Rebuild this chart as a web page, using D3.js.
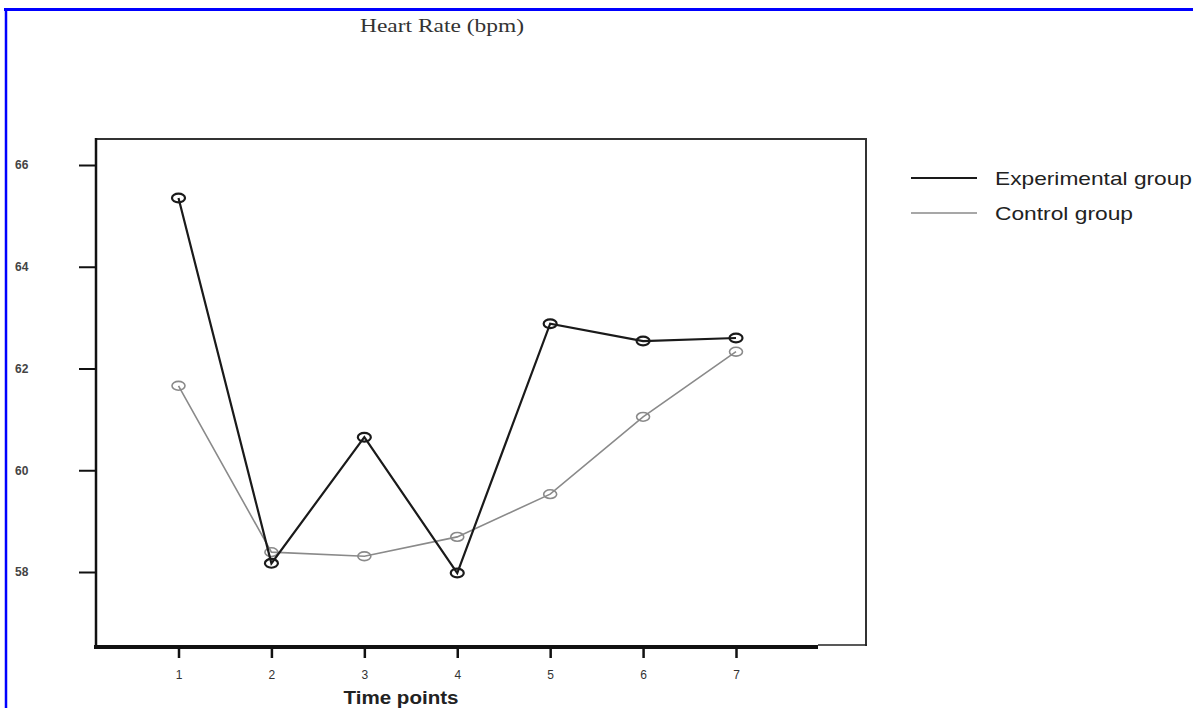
<!DOCTYPE html>
<html>
<head>
<meta charset="utf-8">
<script src="https://cdn.jsdelivr.net/npm/d3@7"></script>
<style>
  html, body { margin: 0; padding: 0; background: #fff; }
  svg { display: block; }
</style>
</head>
<body>
<svg id="chart" width="1193" height="708"></svg>
<script>
const timePoints = [1, 2, 3, 4, 5, 6, 7];
const experimental = [65.35, 58.17, 60.65, 57.98, 62.88, 62.54, 62.60];
const control = [61.66, 58.39, 58.31, 58.69, 59.53, 61.05, 62.33];
const yTicks = [58, 60, 62, 64, 66];
const seriesNames = ["Experimental group", "Control group"];
const titleText = "Heart Rate (bpm)";
const xLabel = "Time points";

(function () {
const svg = d3.select("#chart");

// blue border (top and left only visible)
svg.append("line").attr("x1", 4).attr("x2", 1193).attr("y1", 9.5).attr("y2", 9.5)
  .attr("stroke", "#0000ff").attr("stroke-width", 3);
svg.append("line").attr("x1", 6).attr("x2", 6).attr("y1", 8).attr("y2", 708)
  .attr("stroke", "#0000ff").attr("stroke-width", 2.5);

const x = d3.scaleLinear().domain([1, 7]).range([178.5, 736]);
const y = d3.scaleLinear().domain([58, 66]).range([572, 165]);

const pLeft = 96, pTop = 139, pRight = 866, pBottom = 647, axisEnd = 818;

// frame
svg.append("line").attr("x1", pLeft).attr("x2", pRight).attr("y1", pTop).attr("y2", pTop)
  .attr("stroke", "#333").attr("stroke-width", 2);
svg.append("line").attr("x1", pRight).attr("x2", pRight).attr("y1", pTop - 1).attr("y2", pBottom - 1)
  .attr("stroke", "#333").attr("stroke-width", 2);
svg.append("line").attr("x1", axisEnd).attr("x2", pRight + 1).attr("y1", pBottom - 2).attr("y2", pBottom - 2)
  .attr("stroke", "#222").attr("stroke-width", 1.5);
svg.append("line").attr("x1", pLeft).attr("x2", pLeft).attr("y1", pTop - 1).attr("y2", pBottom)
  .attr("stroke", "#111").attr("stroke-width", 2.5);
svg.append("line").attr("x1", pLeft - 2).attr("x2", axisEnd).attr("y1", pBottom).attr("y2", pBottom)
  .attr("stroke", "#111").attr("stroke-width", 4);

// y axis
const yAxis = d3.axisLeft(y).tickValues(yTicks).tickSize(17).tickPadding(46).tickFormat(d3.format("d"));
const gy = svg.append("g").attr("transform", `translate(${pLeft},0)`).call(yAxis);
gy.select(".domain").remove();
gy.selectAll(".tick line").attr("stroke", "#111").attr("stroke-width", 2);
gy.selectAll(".tick text").attr("fill", "#444").attr("font-family", "Arial, 'Liberation Sans', sans-serif")
  .attr("font-size", 12).attr("font-weight", "bold").attr("text-anchor", "start").attr("x", -81);

// x axis
const xAxis = d3.axisBottom(x).tickValues(timePoints).tickSize(11).tickPadding(12).tickFormat(d3.format("d"));
const gx = svg.append("g").attr("transform", `translate(0,${pBottom})`).call(xAxis);
gx.select(".domain").remove();
gx.selectAll(".tick line").attr("stroke", "#111").attr("stroke-width", 2.5);
gx.selectAll(".tick text").attr("fill", "#333").attr("font-family", "Arial, 'Liberation Sans', sans-serif")
  .attr("font-size", 12);

// title
svg.append("text").attr("x", 442).attr("y", 32).attr("text-anchor", "middle")
  .attr("font-family", "'Liberation Serif', 'Times New Roman', serif").attr("font-size", 19)
  .attr("fill", "#333").attr("textLength", 164).attr("lengthAdjust", "spacingAndGlyphs")
  .text(titleText);

// x label
svg.append("text").attr("x", 401).attr("y", 704).attr("text-anchor", "middle")
  .attr("font-family", "Arial, 'Liberation Sans', sans-serif").attr("font-size", 18).attr("font-weight", "bold")
  .attr("fill", "#222").attr("textLength", 115).attr("lengthAdjust", "spacingAndGlyphs")
  .text(xLabel);

// series
const series = [
  { name: seriesNames[0], values: experimental, color: "#1a1a1a", width: 2.2 },
  { name: seriesNames[1], values: control, color: "#8a8a8a", width: 1.6 }
];
const line = d3.line().x((d, i) => x(timePoints[i])).y(d => y(d));

// draw control first, experimental on top
[series[1], series[0]].forEach(s => {
  svg.append("path").datum(s.values).attr("d", line)
    .attr("fill", "none").attr("stroke", s.color).attr("stroke-width", s.width);
  svg.append("g").selectAll("ellipse").data(s.values).join("ellipse")
    .attr("cx", (d, i) => x(timePoints[i])).attr("cy", d => y(d))
    .attr("rx", 6.5).attr("ry", 4.4)
    .attr("fill", "none").attr("stroke", s.color).attr("stroke-width", s.width);
});

// legend
const legendY = [178, 213];
const legendWidths = [197, 138];
series.forEach((s, i) => {
  svg.append("line").attr("x1", 911).attr("x2", 977).attr("y1", legendY[i]).attr("y2", legendY[i])
    .attr("stroke", s.color).attr("stroke-width", i === 0 ? 2.2 : 1.6);
  svg.append("text").attr("x", 995).attr("y", legendY[i] + 7)
    .attr("font-family", "Arial, 'Liberation Sans', sans-serif").attr("font-size", 19)
    .attr("fill", "#222").attr("textLength", legendWidths[i]).attr("lengthAdjust", "spacingAndGlyphs")
    .text(s.name);
});
})();
</script>
</body>
</html>
